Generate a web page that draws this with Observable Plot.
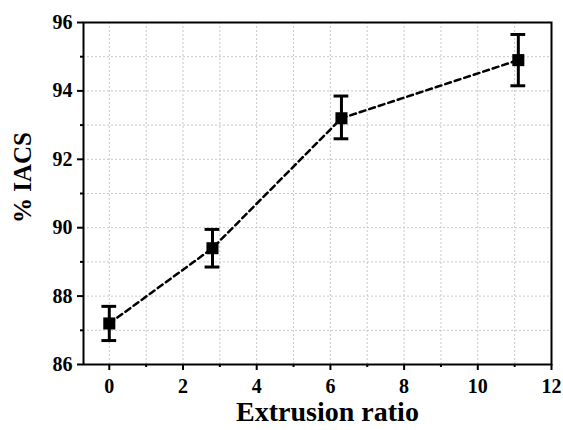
<!DOCTYPE html>
<html>
<head>
<meta charset="utf-8">
<script src="https://cdn.jsdelivr.net/npm/d3@7"></script>
<script src="https://cdn.jsdelivr.net/npm/@observablehq/plot@0.6"></script>
<style>
  html, body { margin: 0; padding: 0; background: white; }
</style>
</head>
<body>
<div id="chart"></div>
<script>
const extrusionRatio = [0, 2.8, 6.3, 11.1];
const iacs = [87.2, 89.4, 93.2, 94.9];
const errLow = [86.7, 88.85, 92.6, 94.15];
const errHigh = [87.7, 89.95, 93.85, 95.65];

const xMajorTicks = [0, 2, 4, 6, 8, 10, 12];
const xMinorTicks = [1, 3, 5, 7, 9, 11];
const yMajorTicks = [86, 88, 90, 92, 94, 96];
const yMinorTicks = [87, 89, 91, 93, 95];
const xGridLines = [0, 1, 2, 3, 4, 5, 6, 7, 8, 9, 10, 11];
const yGridLines = [87, 88, 89, 90, 91, 92, 93, 94, 95];

const xLabel = "Extrusion ratio";
const yLabel = "% IACS";

const data = extrusionRatio.map((x, i) => ({x, y: iacs[i], lo: errLow[i], hi: errHigh[i]}));
const capHalf = 0.2;
const blank = () => "";

const chart = Plot.plot({
  width: 563,
  height: 430,
  marginLeft: 83,
  marginRight: 12,
  marginTop: 22,
  marginBottom: 66,
  x: {domain: [-0.7, 12]},
  y: {domain: [86, 96]},
  style: {fontFamily: "'Liberation Serif', 'Times New Roman', serif", fontWeight: "bold", background: "white", color: "black"},
  marks: [
    Plot.gridX(xGridLines, {stroke: "#c8c8c8", strokeOpacity: 1, strokeDasharray: "2,2", strokeWidth: 1}),
    Plot.gridY(yGridLines, {stroke: "#c8c8c8", strokeOpacity: 1, strokeDasharray: "2,2", strokeWidth: 1}),
    Plot.axisX(xMajorTicks, {tickSize: 6, strokeWidth: 2, label: null, tickFormat: blank}),
    Plot.axisX(xMinorTicks, {tickSize: 3, strokeWidth: 2, label: null, tickFormat: blank}),
    Plot.axisY(yMajorTicks, {tickSize: 6, strokeWidth: 2, label: null, tickFormat: blank}),
    Plot.axisY(yMinorTicks, {tickSize: 3, strokeWidth: 2, label: null, tickFormat: blank}),
    Plot.text(xMajorTicks, {x: d => d, frameAnchor: "bottom", textAnchor: "middle", lineAnchor: "middle", dy: 22, fontSize: 20, fontWeight: "bold", text: d => String(d)}),
    Plot.text(yMajorTicks, {y: d => d, frameAnchor: "left", textAnchor: "end", lineAnchor: "middle", dx: -11, fontSize: 20, fontWeight: "bold", text: d => String(d)}),
    Plot.line(data, {x: "x", y: "y", stroke: "black", strokeWidth: 2.5, strokeDasharray: "6,4"}),
    Plot.ruleX(data, {x: "x", y1: "lo", y2: "hi", stroke: "black", strokeWidth: 3}),
    Plot.ruleY(data, {y: "lo", x1: d => d.x - capHalf, x2: d => d.x + capHalf, stroke: "black", strokeWidth: 3}),
    Plot.ruleY(data, {y: "hi", x1: d => d.x - capHalf, x2: d => d.x + capHalf, stroke: "black", strokeWidth: 3}),
    Plot.dot(data, {x: "x", y: "y", symbol: "square", r: 6.8, fill: "black", stroke: "none"}),
    Plot.frame({stroke: "black", strokeWidth: 2}),
    Plot.text([xLabel], {frameAnchor: "bottom", textAnchor: "middle", lineAnchor: "middle", dy: 48, dx: 10, fontSize: 28, fontWeight: "bold", text: d => d}),
    Plot.text([yLabel], {frameAnchor: "left", textAnchor: "middle", lineAnchor: "middle", rotate: -90, dx: -61, dy: -16, fontSize: 25, fontWeight: "bold", text: d => d})
  ]
});
document.getElementById("chart").appendChild(chart);
</script>
</body>
</html>
